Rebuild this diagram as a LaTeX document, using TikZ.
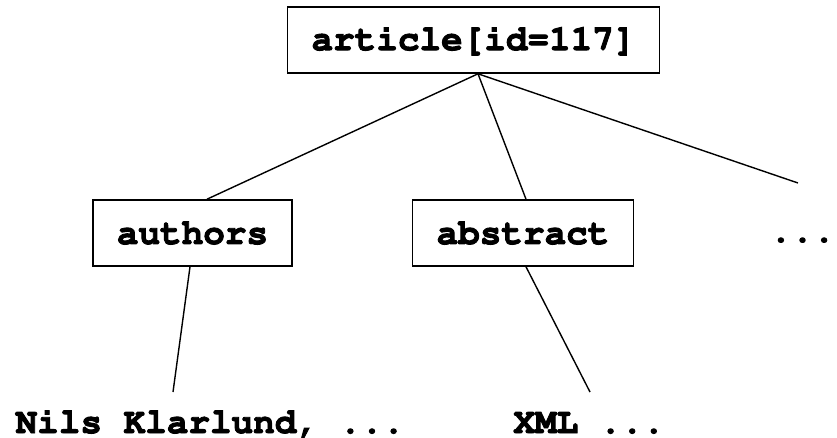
\documentclass[tikz,border=0pt]{standalone}
\usepackage[T1]{fontenc}
\usepackage{tikz}
\usetikzlibrary{positioning}
% bold Courier for all labels, stroked a little to make it heavier
\newcommand{\codefont}{\fontencoding{T1}\fontfamily{pcr}\fontseries{b}\fontsize{36}{40}\selectfont}
\newcommand{\heavy}[1]{\special{pdf:code q 2 Tr 0.9 w}#1\special{pdf:code Q}}
\tikzset{
    % box round an element name
    elembox/.style={
        draw=black,
        line width=1.6pt,
        inner xsep=24pt,
        minimum height=66pt,
        font=\codefont
    },
    % plain text under the tree
    leaftext/.style={
        anchor=base,
        inner sep=0pt,
        font=\codefont
    },
    treeline/.style={
        line width=1.4pt,
        black
    }
}

\begin{document}
\begin{tikzpicture}[x=1pt,y=-1pt]
   \useasboundingbox (0,0) rectangle (837,438);

   % elements
   \node[elembox] (article) at (473.5,40) {\heavy{article[id=117]}};
   \node[elembox] (authors) at (192.5,233) {\heavy{authors}};
   \node[elembox] (abstract) at (523,233) {\heavy{abstract}};
   \node[leaftext] (more) at (802.5,242) {\heavy{...}};

   % text content
   \node[leaftext] (names) at (210,433) {\heavy{Nils Klarlund, ...}};
   \node[leaftext] (xml) at (589,433) {\heavy{XML ...}};

   \path
    (798,183) coordinate (moreend)
    (173,392) coordinate (namesend)
    (590,392) coordinate (xmlend)
    ;

   % tree edges
   \draw[treeline] ([xshift=4.5pt]article.south) -- ([xshift=14.5pt]authors.north);
   \draw[treeline] ([xshift=4.5pt]article.south) -- ([xshift=3pt]abstract.north);
   \draw[treeline] ([xshift=4.5pt]article.south) -- (moreend);
   \draw[treeline] ([xshift=-2.5pt]authors.south) -- (namesend);
   \draw[treeline] ([xshift=3pt]abstract.south) -- (xmlend);

\end{tikzpicture}
\end{document}
